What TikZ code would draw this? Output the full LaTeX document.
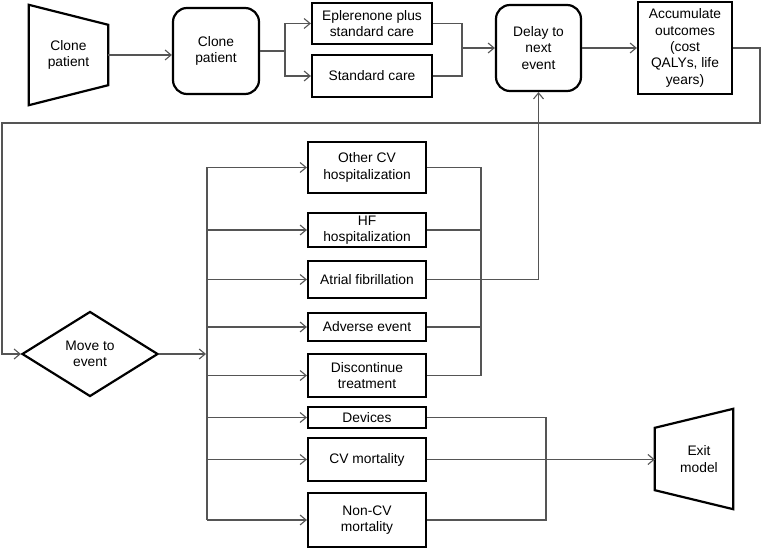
\documentclass[tikz,border=0pt]{standalone}
\usepackage{fontspec}
\setmainfont{Liberation Sans}
\usetikzlibrary{arrows.meta, positioning, calc, shapes.geometric}
\definecolor{WireGray}{RGB}{85, 85, 85}

\begin{document}
\begin{tikzpicture}[x=1pt, y=-1pt, font=\fontsize{13.8}{16.4}\selectfont,
    box/.style={draw, line width=2.2pt, rectangle, align=center, inner sep=0pt, minimum width=118pt},
    rbox/.style={box, rounded corners=14pt},
    conn/.style={draw=WireGray, line width=1.1pt},
    arr/.style={conn, -{Straight Barb[length=6pt, width=10pt]}}]
    \useasboundingbox (0,0) rectangle (766,548);

    % top row
    \node[align=center, inner sep=0pt, minimum width=79pt, minimum height=100pt] (clonein) at (68.5,55) {Clone\\patient};
    \draw[line width=2.2pt, line join=miter] (clonein.north west) -- ($(clonein.north east)+(0,20)$)
        -- ($(clonein.south east)+(0,-20)$) -- (clonein.south west) -- cycle;
    \node[rbox, minimum width=86pt, minimum height=86pt] (clone) at (216,51) {Clone\\patient};
    \node[box, minimum width=120pt, minimum height=41pt] (eplerenone) at (372,23.5) {Eplerenone plus\\standard care};
    \node[box, minimum width=120pt, minimum height=42pt] (standard) at (372,76) {Standard care};
    \node[rbox, minimum width=85pt, minimum height=86pt] (delay) at (538.5,48) {Delay to\\next\\event};
    \node[box, minimum width=94pt, minimum height=92pt] (accumulate) at (685,48) {Accumulate\\outcomes\\(cost\\QALYs, life\\years)};

    % events
    \node[diamond, draw, line width=2.2pt, align=center, inner sep=0pt, minimum width=136pt, minimum height=85pt] (move) at (90,354) {Move to\\event};
    \node[box, minimum height=51pt] (othercv) at (367,167.5) {Other CV\\hospitalization};
    \node[box, minimum height=34pt] (hf) at (367,230) {HF\\hospitalization};
    \node[box, minimum height=37pt] (af) at (367,279.5) {Atrial fibrillation};
    \node[box, minimum height=28pt] (adverse) at (367,327) {Adverse event};
    \node[box, minimum height=43pt] (discontinue) at (367,375.5) {Discontinue\\treatment};
    \node[box, minimum height=21pt] (devices) at (367,417.5) {Devices};
    \node[box, minimum height=43pt] (cvmort) at (367,459.5) {CV mortality};
    \node[box, minimum height=54pt] (noncvmort) at (367,520) {Non-CV\\mortality};

    \node[align=center, inner sep=0pt, minimum width=78pt, minimum height=100pt] (exit) at (694,459) {\hspace*{10pt}Exit\\\hspace*{10pt}model};
    \draw[line width=2.2pt, line join=miter] ($(exit.north west)+(0,19)$) -- (exit.north east)
        -- (exit.south east) -- ($(exit.south west)+(0,-19)$) -- cycle;

    \coordinate (split) at (285,51);
    \coordinate (merge) at (462,48);
    \coordinate (loopright) at (760,123);
    \coordinate (loopleft) at (2,354);
    \coordinate (bus) at (207,354);
    \coordinate (back) at (481,0);
    \coordinate (out) at (546,0);

    % connectors
    \draw[arr] (clonein.east) -- (clonein.east -| clone.west);
    \draw[conn] (clone.east |- split) -- (split);
    \draw[arr] (split) |- (eplerenone.west);
    \draw[arr] (split) |- (standard.west);
    \draw[conn] (eplerenone.east) -| (merge) |- (standard.east);
    \draw[arr] (merge) -- (delay.west);
    \draw[arr] (delay.east) -- (delay.east -| accumulate.west);
    \draw[arr] (accumulate.east) -| (loopright) -- (loopright -| loopleft) |- (move.west);
    \draw[arr] (move.east) -- ($(bus)+(-1,0)$);
    \draw[conn] (othercv.west -| bus) -- (noncvmort.west -| bus);
    \foreach \ev in {othercv, hf, af, adverse, discontinue, devices, cvmort, noncvmort}
        \draw[arr] (\ev.west -| bus) -- (\ev.west);
    \foreach \ev in {othercv, hf, adverse, discontinue}
        \draw[conn] (\ev.east) -- (\ev.east -| back);
    \draw[conn] (othercv.east -| back) -- (discontinue.east -| back);
    \draw[arr] (af.east) -| (delay.south);
    \draw[conn] (devices.east) -- (devices.east -| out) |- (noncvmort.east);
    \draw[arr] (cvmort.east) -- (cvmort.east -| exit.west);
\end{tikzpicture}
\end{document}
